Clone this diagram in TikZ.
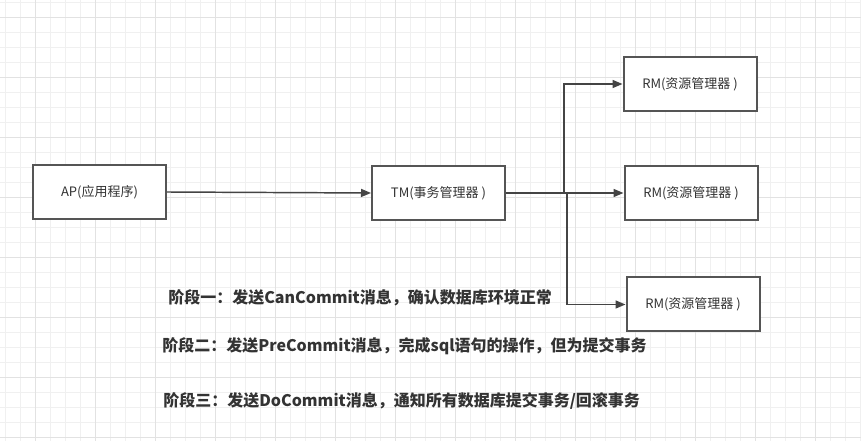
\documentclass[tikz,border=0pt]{standalone}
\usepackage{fontspec}
\setmainfont{Noto Sans CJK SC}
\usetikzlibrary{arrows.meta}
\definecolor{gridminor}{HTML}{F0F0F0}
\definecolor{gridmajor}{HTML}{E2E2E2}
\definecolor{boxline}{HTML}{555555}
\definecolor{connc}{HTML}{444444}
\definecolor{txt}{HTML}{333333}
\tikzset{
  box/.style={draw=boxline, line width=1.5pt, fill=white, minimum width=99.75pt, minimum height=40.5pt, inner sep=0pt, font=\fontsize{9.75pt}{12pt}\selectfont, text=txt},
  conn/.style={draw=connc, line width=1.1pt, -{Triangle[length=7.5pt,width=6pt]}},
  phase/.style={anchor=west, inner sep=0pt, font=\fontsize{12pt}{14pt}\selectfont\bfseries, text=txt},
  gmin/.style={draw=gridminor, line width=0.75pt},
  gmaj/.style={draw=gridmajor, line width=0.75pt}
}
\begin{document}
\begin{tikzpicture}[x=0.75pt,y=-0.75pt]
\fill[white] (0,0) rectangle (861,441);
\useasboundingbox (0,0) rectangle (861,441);
\foreach \x in {5,20,...,860} \draw[gmin] (\x,0) -- (\x,441);
\foreach \y in {3,18,...,440} \draw[gmin] (0,\y) -- (861,\y);
\foreach \x in {35,95,...,860} \draw[gmaj] (\x,0) -- (\x,441);
\foreach \y in {18,78,...,440} \draw[gmaj] (0,\y) -- (861,\y);

\node[box] (AP) at (99.5,192) {AP(应用程序)};
\node[box] (TM) at (438.5,193) {TM(事务管理器 )};
\node[box] (RM1) at (690,84) {RM(资源管理器 )};
\node[box] (RM2) at (691,193) {RM(资源管理器 )};
\node[box] (RM3) at (693,304.5) {RM(资源管理器 )};

\coordinate (j1) at (564,193);
\coordinate (j3) at (567,193);

\draw[conn] (AP.east) -- (TM.west);
\draw[conn] (TM.east) -- (j1) |- (RM1.west);
\draw[conn] (TM.east) -- (RM2.west);
\draw[conn] (TM.east) -- (j3) |- (RM3.west);

\node[phase] (p1) at (168,298) {阶段一：发送CanCommit消息，确认数据库环境正常};
\node[phase] (p2) at (162,346) {阶段二：发送PreCommit消息，完成sql语句的操作，但为提交事务};
\node[phase] (p3) at (163,401) {阶段三：发送DoCommit消息，通知所有数据库提交事务/回滚事务};
\end{tikzpicture}
\end{document}
